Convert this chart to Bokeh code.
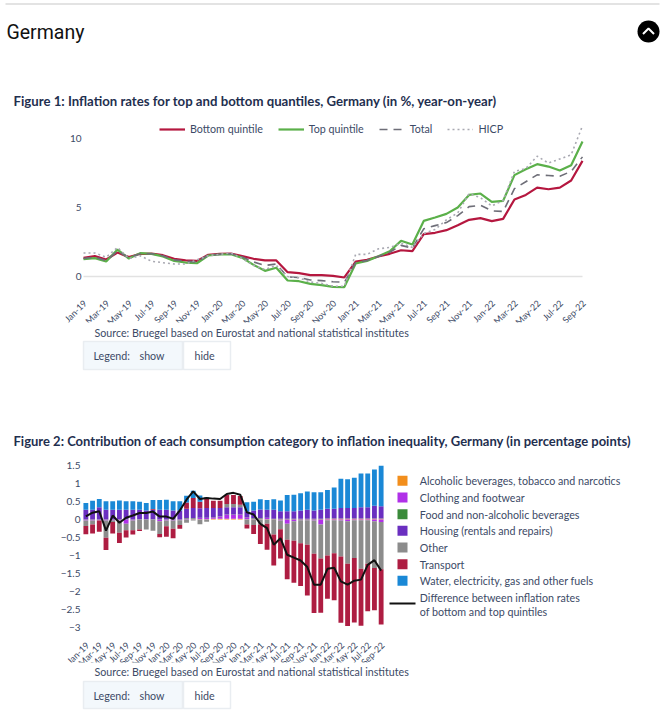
from bokeh.plotting import figure
from bokeh.layouts import column, row
from bokeh.models import Legend, LegendItem, FixedTicker, Range1d
from bokeh.core.properties import value
from bokeh.embed import file_html
from bokeh.resources import INLINE
import math

months = [f"{m}-{y}" for y in ("19", "20", "21", "22") for m in
          ("Jan", "Feb", "Mar", "Apr", "May", "Jun", "Jul", "Aug", "Sep", "Oct", "Nov", "Dec")][:45]

bottom_q = [1.35,1.47,1.23,1.73,1.40,1.64,1.66,1.54,1.28,1.16,1.13,1.57,1.64,1.66,1.47,1.28,1.16,1.16,0.31,0.24,0.10,0.10,0.05,-0.07,
            1.08,1.20,1.45,1.64,1.90,1.83,3.06,3.16,3.35,3.70,4.10,4.22,4.00,4.17,5.57,5.90,6.43,6.31,6.43,6.94,8.36]
top_q = [1.25,1.33,1.08,1.95,1.30,1.69,1.64,1.45,1.13,1.01,0.96,1.52,1.59,1.61,1.35,0.84,0.41,0.63,-0.29,-0.34,-0.53,-0.63,-0.75,-0.77,
         0.94,1.13,1.47,1.83,2.58,2.31,4.02,4.27,4.53,4.99,5.90,6.00,5.40,5.47,7.33,7.76,8.12,7.95,7.66,8.05,9.76]
total = [1.3,1.4,1.15,1.85,1.35,1.65,1.65,1.5,1.2,1.1,1.05,1.55,1.6,1.65,1.42,1.05,0.8,0.9,-0.02,-0.08,-0.25,-0.3,-0.38,-0.42,
         1.0,1.15,1.45,1.75,2.25,2.05,3.45,3.68,3.9,4.4,5.05,5.15,4.75,4.7,6.35,6.85,7.35,7.3,7.25,7.6,8.65]
hicp = [1.7,1.7,1.4,2.1,1.3,1.5,1.1,1.0,0.9,0.9,1.2,1.5,1.6,1.7,1.3,0.8,0.5,0.8,0.0,-0.1,-0.4,-0.5,-0.7,-0.7,
        1.6,1.6,2.0,2.1,2.4,2.1,3.1,3.4,4.1,4.6,6.0,5.7,5.1,5.5,7.6,7.8,8.7,8.2,8.5,8.8,10.9]

alcohol = [0,0,0,0,0,0,0,0,0,0,0,0,0,0,0,0,0.01,0.01,0.01,0.02,0.02,0.02,0.02,0.02,
           0.01,0.01,0.01,0.01,0.01,0.01,0.01,0.01,0.01,0.01,0.01,0.01,0.02,0.02,0.02,0.02,0.02,0.02,0.02,0.02,0.02]
clothing = [-0.03,-0.03,-0.02,-0.03,-0.03,-0.03,-0.12,-0.03,-0.01,-0.01,-0.01,-0.05,-0.03,-0.03,-0.02,0.03,0.02,0.03,0.03,0.04,0.06,0.11,0.11,0.11,
            0.05,0.02,0.02,0.03,-0.01,-0.03,-0.12,-0.05,-0.02,-0.02,-0.03,-0.14,-0.02,-0.02,-0.03,-0.05,-0.02,-0.02,-0.02,-0.05,-0.07]
food = [0.01] * 45
housing = [0.26,0.26,0.33,0.26,0.26,0.26,0.26,0.26,0.26,0.24,0.26,0.26,0.26,0.24,0.24,0.26,0.28,0.26,0.27,0.25,0.23,0.20,0.20,0.20,
           0.15,0.21,0.24,0.22,0.25,0.21,0.21,0.21,0.23,0.25,0.23,0.25,0.27,0.27,0.29,0.29,0.29,0.31,0.31,0.35,0.34]
other = [-0.15,-0.11,-0.01,-0.48,-0.04,-0.34,-0.18,-0.27,-0.27,-0.27,-0.30,-0.35,-0.16,-0.23,-0.13,-0.09,-0.03,-0.13,-0.06,0.0,0.0,0.09,0.09,0.07,
         -0.14,-0.15,-0.14,-0.12,-0.41,-0.24,-0.44,-0.54,-0.64,-0.68,-0.92,-0.94,-0.98,-0.92,-1.00,-1.18,-1.05,-1.35,-1.21,-1.30,-1.31]
transport = [-0.23,-0.25,-0.31,-0.34,-0.32,-0.28,-0.20,-0.12,-0.04,0.0,0.02,-0.09,-0.29,-0.26,-0.11,0.17,0.28,0.18,0.25,0.20,0.20,0.25,0.25,0.24,
             -0.11,-0.25,-0.54,-0.72,-0.86,-0.81,-1.10,-1.17,-1.19,-1.41,-1.65,-1.51,-1.20,-1.30,-1.84,-1.73,-1.79,-1.58,-1.32,-1.17,-1.54]
water = [0.19,0.25,0.23,0.24,0.24,0.26,0.24,0.24,0.22,0.21,0.25,0.27,0.28,0.26,0.26,0.19,0.20,0.18,0.05,0.0,0.0,0.0,0.0,0.0,
         0.26,0.24,0.28,0.27,0.29,0.30,0.45,0.46,0.48,0.51,0.51,0.49,0.52,0.59,0.81,0.80,0.84,0.94,0.94,1.01,1.12]
difference = [0.09,0.19,0.23,-0.31,0.11,-0.09,0.05,0.11,0.18,0.18,0.22,0.08,0.08,0.02,0.25,0.55,0.78,0.57,0.60,0.58,0.57,0.71,0.74,0.69,
              0.20,0.14,-0.12,-0.24,-0.70,-0.52,-0.98,-1.06,-1.14,-1.32,-1.81,-1.81,-1.37,-1.34,-1.72,-1.81,-1.70,-1.67,-1.26,-1.13,-1.42]

categories = ["Alcoholic beverages, tobacco and narcotics", "Clothing and footwear", "Food and non-alcoholic beverages",
              "Housing (rentals and repairs)", "Other", "Transport", "Water, electricity, gas and other fuels"]
cat_values = [alcohol, clothing, food, housing, other, transport, water]
cat_colors = ["#F28E1C", "#B030E8", "#3A8A3A", "#6A2FC0", "#8C8C8C", "#AE1D42", "#1A88D6"]

FONT = "Lato"
INK = "#1F2F4F"
TXT = "#3C4A66"
BODY = 10.7
W = 666
FRAME_LEFT = 50
xs = list(range(45))
tick_idx = xs[::2]


def panel(x0, x1, y0, y1):
    """A figure without axes whose frame fills it, with data units equal to page pixels."""
    p = figure(width=x1 - x0, height=y1 - y0, output_backend="svg", toolbar_location=None,
               x_range=Range1d(x0, x1), y_range=Range1d(y1, y0), x_axis_location=None, y_axis_location=None,
               min_border=0, outline_line_color=None, frame_align=False)
    p.grid.visible = False
    return p


def add_text(p, x, y, text, size, color=TXT, style="normal", font=FONT):
    p.text(x=[x], y=[y], text=[text], text_font=value(font), text_font_size=f"{size}px", text_color=color,
           text_font_style=style, text_baseline="middle", text_align="left")


def add_box(p, l, r, t, b, fill, line="#E9EDF1"):
    p.quad(left=[l], right=[r], top=[t], bottom=[b], fill_color=fill, line_color=line, line_width=1.5 if line else 0)


def style(p, x_axis_at, y_axis_at):
    p.outline_line_color = None
    p.xaxis.visible = False
    p.yaxis.fixed_location = y_axis_at
    ax = p.yaxis
    ax.axis_line_color = None
    ax.major_tick_line_color = None
    ax.minor_tick_line_color = None
    ax.major_tick_out = 0
    ax.major_tick_in = 0
    ax.minor_tick_out = 0
    ax.minor_tick_in = 0
    ax.major_label_text_font = FONT
    ax.major_label_text_font_size = "10px"
    ax.major_label_text_color = TXT
    ax.major_label_standoff = 2
    p.grid.visible = False
    # month labels stay inside the frame, so that nothing cuts them off
    p.text(x=tick_idx, y=[x_axis_at] * len(tick_idx), text=[months[i] for i in tick_idx], angle=math.pi / 4,
           text_align="right", text_baseline="middle", x_offset=1.5, y_offset=5, text_font=value(FONT),
           text_font_size="9px", text_color=TXT)


def add_footer(p, source_y, box_t, box_b):
    add_text(p, 94, source_y, "Source: Bruegel based on Eurostat and national statistical institutes", BODY)
    add_box(p, 83, 182, box_t, box_b, "#F3F8FC")
    add_box(p, 183, 230, box_t, box_b, "#FFFFFF")
    mid = (box_t + box_b) / 2
    add_text(p, 93, mid, "Legend:", BODY)
    add_text(p, 139, mid, "show", BODY)
    add_text(p, 194, mid, "hide", BODY)


# ---------- Header ----------
Y_CH1, Y_MID, Y_CH2, Y_FOOT, Y_END = 118, 324, 458, 664, 716
head = panel(0, W, 0, Y_CH1)
add_box(head, 5, 659, 3, 4, "#C8C8C8", None)
add_text(head, 6, 32, "Germany", 19.5, "#111111", "normal", "Roboto")
head.scatter(x=[648], y=[31], size=22, marker="circle", fill_color="#000000", line_color=None)
head.line(x=[642.5, 648, 653.5], y=[33.5, 28, 33.5], line_color="#FFFFFF", line_width=2)
add_text(head, 13, 100, "Figure 1: Inflation rates for top and bottom quantiles, Germany (in %, year-on-year)", 13.2, INK, "bold")

# ---------- Figure 1 ----------
f_top, f_bottom, f_right = 120, 322, 592
zero1, per1 = 276.0, 13.83
unit1 = (582 - 83) / 44
p1 = figure(width=W, height=Y_MID - Y_CH1, output_backend="svg", toolbar_location=None,
            frame_width=f_right - FRAME_LEFT, frame_height=f_bottom - f_top, frame_align=False,
            x_range=Range1d((FRAME_LEFT - 83) / unit1, 44 + (f_right - 582) / unit1),
            y_range=Range1d((zero1 - f_bottom) / per1, (zero1 - f_top) / per1),
            min_border_left=FRAME_LEFT, min_border_right=W - f_right, min_border_top=f_top - Y_CH1, min_border_bottom=Y_MID - f_bottom)
style(p1, (zero1 - 296) / per1, 0)
p1.yaxis.ticker = FixedTicker(ticks=[0, 5, 10])
p1.segment(x0=[xs[0]], x1=[xs[-1]], y0=[0], y1=[0], line_color="#E2E2E2", line_width=1.5)
r_b = p1.line(xs, bottom_q, line_color="#B5173F", line_width=2.2)
r_t = p1.line(xs, top_q, line_color="#5BB04A", line_width=2.2)
r_to = p1.line(xs, total, line_color="#6E6E78", line_width=1.6, line_dash="8 6")
r_h = p1.line(xs, hicp, line_color="#A9A9B2", line_width=1.6, line_dash="2 3")
leg1 = Legend(items=[LegendItem(label="Bottom quintile", renderers=[r_b]), LegendItem(label="Top quintile", renderers=[r_t]),
                     LegendItem(label="Total", renderers=[r_to]), LegendItem(label="HICP", renderers=[r_h])],
              orientation="horizontal", location=(159 - FRAME_LEFT, f_bottom - 135), glyph_width=26, glyph_height=10, label_height=10,
              label_standoff=5, spacing=15, padding=0, margin=0, border_line_color=None, background_fill_alpha=0,
              label_text_font=FONT, label_text_font_size=f"{BODY}px", label_text_color=TXT)
p1.add_layout(leg1)

# ---------- Between the figures ----------
mid = panel(0, W, Y_MID, Y_CH2)
add_footer(mid, 331.5, 341, 369)
add_text(mid, 13, 440, "Figure 2: Contribution of each consumption category to inflation inequality, Germany (in percentage points)", 13, INK, "bold")

# ---------- Figure 2 ----------
g_top, g_bottom = 460, 662
zero2, per2 = 519.0, 36.0
X_SPLIT = 386
unit2 = (384 - 82) / 45
p2 = figure(width=X_SPLIT, height=Y_FOOT - Y_CH2, output_backend="svg", toolbar_location=None,
            frame_width=X_SPLIT - FRAME_LEFT, frame_height=g_bottom - g_top, frame_align=False,
            x_range=Range1d(-0.5 - (82 - FRAME_LEFT) / unit2, 44.5 + (X_SPLIT - 384) / unit2),
            y_range=Range1d((zero2 - g_bottom) / per2, (zero2 - g_top) / per2),
            min_border_left=FRAME_LEFT, min_border_right=0, min_border_top=g_top - Y_CH2, min_border_bottom=Y_FOOT - g_bottom)
style(p2, (zero2 - 638) / per2, -0.5)
p2.yaxis.ticker = FixedTicker(ticks=[-3, -2.5, -2, -1.5, -1, -0.5, 0, 0.5, 1, 1.5])
p2.yaxis.major_label_overrides = {-3: "−3", -2.5: "−2.5", -2: "−2", -1.5: "−1.5", -1: "−1", -0.5: "−0.5", 0: "0", 0.5: "0.5", 1: "1", 1.5: "1.5"}

pos = [0.0] * 45
neg = [0.0] * 45
for vals, col in zip(cat_values, cat_colors):
    bots, tops = [], []
    for i, v in enumerate(vals):
        if v >= 0:
            bots.append(pos[i]); tops.append(pos[i] + v); pos[i] += v
        else:
            bots.append(neg[i]); tops.append(neg[i] + v); neg[i] += v
    p2.vbar(x=xs, bottom=bots, top=tops, width=0.72, fill_color=col, line_color=None)
p2.line(xs, difference, line_color="#111111", line_width=2)

# ---------- Legend of figure 2 ----------
key = panel(X_SPLIT, W, Y_CH2, Y_FOOT)
for j, (name, col) in enumerate(zip(categories, cat_colors)):
    yc = 480.3 + 16.67 * j
    key.quad(left=[397], right=[407], top=[yc - 5], bottom=[yc + 5], fill_color=col, line_color=None)
    add_text(key, 419.3, yc, name, BODY)
key.line(x=[389, 415], y=[603, 603], line_color="#111111", line_width=2)
add_text(key, 419.3, 597.3, "Difference between inflation rates", BODY)
add_text(key, 419.3, 611, "of bottom and top quintiles", BODY)

# ---------- Footer ----------
foot = panel(0, W, Y_FOOT, Y_END)
add_footer(foot, 671, 681, 708)

layout = column(head, p1, mid, row(p2, key, spacing=0), foot, spacing=0)
open("out.html", "w").write(file_html(layout, INLINE))
